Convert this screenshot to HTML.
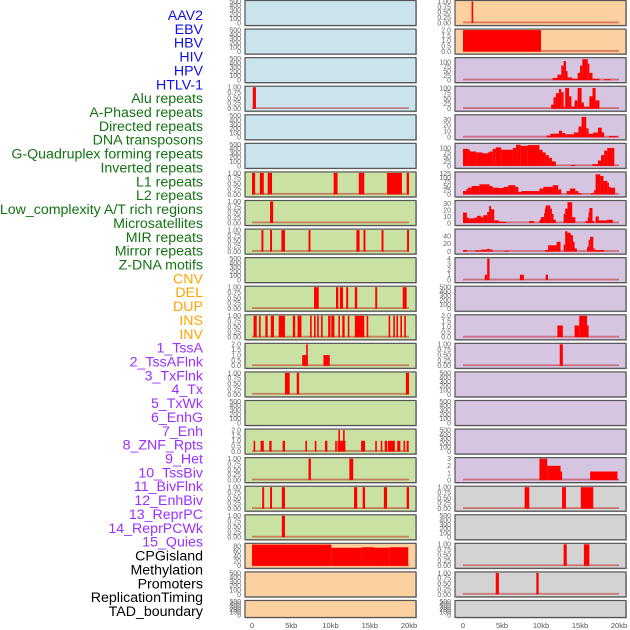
<!DOCTYPE html>
<html><head><meta charset="utf-8">
<style>
html,body{margin:0;padding:0;background:#fff;}
svg{display:block;font-family:"Liberation Sans",sans-serif;}
</style></head>
<body>
<svg id="chart" width="630" height="630" viewBox="0 0 630 630"></svg>
<script>
// ---- labels ----
const trackLabels = ["AAV2","EBV","HBV","HIV","HPV","HTLV-1","Alu repeats","A-Phased repeats","Directed repeats","DNA transposons","G-Quadruplex forming repeats","Inverted repeats","L1 repeats","L2 repeats","Low_complexity A/T rich regions","Microsatellites","MIR repeats","Mirror repeats","Z-DNA motifs","CNV","DEL","DUP","INS","INV","1_TssA","2_TssAFlnk","3_TxFlnk","4_Tx","5_TxWk","6_EnhG","7_Enh","8_ZNF_Rpts","9_Het","10_TssBiv","11_BivFlnk","12_EnhBiv","13_ReprPC","14_ReprPCWk","15_Quies","CPGisland","Methylation","Promoters","ReplicationTiming","TAD_boundary"];
const labelGroups = [6,13,5,15,5];
const groupColors = ["#1010e0","#137313","#ffa500","#9b30ff","#000000"];
const xTickValues = [0,5,10,15,20];
const xTickLabels = ["0","5kb","10kb","15kb","20kb"];

// ---- tick sets ----
const ticksE = [0,100,200,300,400,500];
const ticksT1 = [0,0.25,0.5,0.75,1];
const ticksT2 = [0,0.5,1,1.5,2];
const ticks80 = [0,20,40,60,80];
const ticks100 = [0,25,50,75,100];
const ticks125 = [0,25,50,75,100,125];
const ticks30 = [0,10,20,30];
const ticks40 = [0,20,40];
const ticks4 = [0,1,2,3,4];
const ticks3 = [0,1,2,3];

const leftYmax = [500,500,500,1,500,500,1,1,1,500,1,1,2,1,500,2,1,1,1,88,500,500];
const leftTicks = [ticksE,ticksE,ticksE,ticksT1,ticksE,ticksE,ticksT1,ticksT1,ticksT1,ticksE,ticksT1,ticksT1,ticksT2,ticksT1,ticksE,ticksT2,ticksT1,ticksT1,ticksT1,ticks80,ticksE,ticksE];
const rightYmax = [1,2,118,104,36,120,128,33,55,4,500,2,1,500,500,500,3,1,500,1,1,500];
const rightTicks = [ticksT1,ticksT2,ticks100,ticks100,ticks30,ticks100,ticks125,ticks30,ticks40,ticks4,ticksE,ticksT2,ticksT1,ticksE,ticksE,ticksE,ticks3,ticksT1,ticksE,ticksT1,ticksT1,ticksE];
const leftBg = ["#c9e4ec","#c9e4ec","#c9e4ec","#c9e4ec","#c9e4ec","#c9e4ec","#c9e1a3","#c9e1a3","#c9e1a3","#c9e1a3","#c9e1a3","#c9e1a3","#c9e1a3","#c9e1a3","#c9e1a3","#c9e1a3","#c9e1a3","#c9e1a3","#c9e1a3","#fdd09f","#fdd09f","#fdd09f"];
const rightBg = ["#fdd09f","#fdd09f","#d5c5e1","#d5c5e1","#d5c5e1","#d5c5e1","#d5c5e1","#d5c5e1","#d5c5e1","#d5c5e1","#d5c5e1","#d5c5e1","#d5c5e1","#d5c5e1","#d5c5e1","#d5c5e1","#d5c5e1","#d3d3d3","#d3d3d3","#d3d3d3","#d3d3d3","#d3d3d3"];

// ---- left column data: [startKb, endKb, value] ----
const L03 = [[0.1,0.5,1]];
const L06 = [[0,0.4,1],[1.0,1.5,1],[2.0,2.55,1],[10.4,10.9,1],[13.6,14.3,1],[17.2,19.1,1],[19.7,20,1]];
const L07 = [[2.3,2.7,1]];
const L08 = [[1.2,1.45,1],[2.3,2.55,1],[3.75,4.2,1],[7.2,7.45,1],[13.3,13.7,1],[14.2,14.45,1],[16.5,16.75,1],[19.75,20,1]];
const L10 = [[7.9,8.5,1],[10.7,11.0,1],[11.2,11.6,1],[12.0,12.25,1],[13.1,13.4,1],[15.7,15.95,1],[19.2,19.7,1]];
const L11 = [[0.2,0.6,1],[0.9,1.1,1],[1.7,2.0,1],[2.4,2.8,1],[3.4,4.2,1],[5.2,5.5,1],[5.8,6.3,1],[7.4,7.6,1],[7.9,8.1,1],[8.3,8.5,1],[8.8,8.95,1],[9.7,10.0,1],[10.1,10.5,1],[11.0,11.2,1],[11.5,11.8,1],[12.2,12.4,1],[13.1,14.3,1],[14.6,14.8,1],[17.4,17.55,1],[18.0,18.2,1],[18.4,18.55,1],[18.9,19.1,1],[19.4,19.6,1]];
const L12 = [[6.4,7.1,1],[6.9,7.1,2],[9.1,9.9,1]];
const L13 = [[4.2,4.8,1],[5.7,6.0,1],[19.6,20,1]];
const L15 = [[0.2,0.4,1],[1.1,1.5,1],[2.2,2.5,1],[3.9,4.2,1],[6.8,7.0,1],[8.0,8.2,1],[9.3,9.6,1],[10.6,10.8,1],[10.9,11.9,1],[11.0,11.2,2],[11.6,11.8,2],[13.9,14.4,1],[15.7,15.9,1],[16.4,16.6,1],[16.9,17.2,1],[17.3,18.2,1],[18.5,18.9,1],[19.3,19.5,1],[19.7,19.96,1]];
const L16 = [[7.2,7.5,1],[12.4,12.9,1]];
const L17 = [[1.3,1.55,1],[2.3,2.55,1],[3.8,4.2,1],[13.0,13.4,1],[14.1,14.4,1],[16.8,17.2,1],[19.7,20,1]];
const L18 = [[3.8,4.2,1]];
const L19 = [[0,10.1,87],[10.1,13.9,74],[13.9,15.6,76],[15.6,17.5,74],[17.5,19.9,76]];
const leftData = [[],[],[],L03,[],[],L06,L07,L08,[],L10,L11,L12,L13,[],L15,L16,L17,L18,L19,[],[]];

// ---- right column data ----
const R00 = [[1.1,1.3,1]];
const R01 = [[0,10.0,2]];
const R02 = [[11.5,12.1,12],[12.1,12.6,30],[12.6,12.9,80],[12.9,13.2,105],[13.2,13.4,50],[13.4,14.0,15],[14.0,14.7,8],[14.7,15.0,40],[15.0,15.3,80],[15.3,16.0,115],[16.0,16.2,90],[16.2,16.6,40],[16.6,17.5,8],[18.1,18.9,5]];
const R03 = [[11.3,11.6,20],[11.6,11.9,55],[11.9,12.3,75],[12.3,12.6,95],[12.6,12.9,80],[12.9,13.1,10],[13.1,13.6,100],[13.6,13.9,60],[13.9,14.3,10],[14.3,14.7,40],[14.7,15.2,100],[15.2,15.5,30],[15.5,16.2,10],[16.2,16.6,60],[16.6,17.0,100],[17.0,17.5,40]];
const R04 = [[10.7,11.2,3],[11.2,12.3,6],[12.3,12.7,11],[12.7,13.1,7],[13.1,14.2,5],[14.2,14.8,8],[14.8,15.2,18],[15.2,15.8,34],[15.8,16.1,15],[16.1,16.7,6],[16.7,17.3,8],[17.3,17.8,16],[17.8,18.1,8],[18.7,19.8,2]];
const R05 = [[0,0.7,95],[0.7,0.9,90],[0.9,1.7,80],[1.7,2.5,75],[2.5,3.2,70],[3.2,3.4,75],[3.4,3.8,80],[3.8,4.2,95],[4.2,4.9,103],[4.9,6.4,90],[6.4,6.8,100],[6.8,7.4,118],[7.4,8.3,112],[8.3,9.8,116],[9.8,10.2,90],[10.2,10.6,75],[10.6,11.0,60],[11.0,11.4,45],[11.4,11.9,25],[13.8,14.4,5],[16.6,17.3,10],[17.3,17.7,30],[17.7,18.1,60],[18.1,18.5,85],[18.5,19.4,100]];
const R06 = [[0,0.4,20],[0.4,0.6,30],[0.6,1.1,40],[1.1,2.1,50],[2.1,3.4,60],[3.4,3.8,50],[3.8,4.6,40],[4.6,5.2,38],[5.2,5.8,45],[5.8,6.7,55],[6.7,7.1,45],[7.1,7.5,15],[7.5,9.8,20],[9.8,10.3,35],[10.3,11.5,45],[11.5,12.2,55],[12.2,12.6,30],[13.3,13.7,20],[13.7,14.4,35],[14.4,14.8,20],[14.8,15.2,8],[16.4,16.8,8],[16.8,17.0,25],[17.0,17.6,120],[17.6,18.0,110],[18.0,18.5,80],[18.5,18.7,70],[18.7,18.9,45],[18.9,19.5,40]];
const R07 = [[0,0.5,16],[0.5,0.8,8],[0.8,1.4,7],[1.4,1.8,8],[1.8,2.3,11],[2.3,2.6,9],[2.6,3.1,12],[3.1,3.35,17],[3.35,3.6,26],[3.6,4.0,21],[4.0,4.6,4],[4.6,5.5,2],[8.5,9.1,3],[9.8,10.0,5],[10.0,10.4,9],[10.4,10.5,15],[10.5,10.6,22],[10.6,11.2,27],[11.2,11.4,22],[11.4,11.6,14],[11.6,11.9,5],[12.9,13.1,14],[13.1,13.4,22],[13.4,14.0,32],[14.0,14.4,9],[15.7,16.0,3],[16.0,16.1,9],[16.1,16.2,16],[16.2,16.6,23],[16.6,16.8,3],[17.0,17.4,10],[17.4,18.5,4],[18.5,19.2,5]];
const R08 = [[0,0.5,4],[1.6,2.3,3],[2.3,3.1,5],[3.1,3.4,7],[3.4,3.8,5],[5.3,5.9,2],[10.5,10.9,4],[10.9,12.0,16],[12.0,12.5,25],[12.9,13.1,18],[13.1,13.4,52],[13.4,13.8,48],[13.8,14.1,42],[14.1,14.3,25],[14.3,14.6,8],[15.9,16.1,12],[16.1,16.3,30],[16.3,16.7,38],[16.7,16.9,8],[16.9,18.1,4]];
const R09 = [[2.8,3.1,1],[3.1,3.4,4],[7.3,7.8,1],[10.6,10.9,1]];
const R11 = [[12.1,12.8,1.1],[14.3,14.9,1.1],[14.9,15.9,2],[15.9,16.1,1.1]];
const R12 = [[12.4,12.8,1]];
const R16 = [[9.8,10.8,3],[10.8,12.5,2],[12.5,12.7,1.2],[16.3,19.8,1.2]];
const R17 = [[7.9,8.5,1],[12.7,13.2,1],[15.1,16.7,1]];
const R19 = [[12.9,13.3,1],[15.5,16.2,1]];
const R20 = [[4.2,4.6,1],[9.4,9.7,1]];
const rightData = [R00,R01,R02,R03,R04,R05,R06,R07,R08,R09,[],R11,R12,[],[],[],R16,R17,[],R19,R20,[]];

// ---- drawing ----
const NS = "http://www.w3.org/2000/svg";
const svg = document.getElementById("chart");
function mk(tag, attrs, parent){ const e=document.createElementNS(NS,tag); for(const k in attrs) e.setAttribute(k,attrs[k]); (parent||svg).appendChild(e); return e; }

let li=0;
labelGroups.forEach((n,g)=>{ for(let j=0;j<n;j++){ const t=mk("text",{x:203,y:15+li*13.86+5,"text-anchor":"end","font-size":"14.2",fill:groupColors[g]}); t.textContent=trackLabels[li];
 
 
 li++; } });

const columns = [
 {px0:245,px1:416,x0:252,x20:409,ymax:leftYmax,ticks:leftTicks,bg:leftBg,data:leftData,name:"left"},
 {px0:455,px1:626,x0:463,x20:619,ymax:rightYmax,ticks:rightTicks,bg:rightBg,data:rightData,name:"right"}
];
function fmt(ticks,v){ if(ticks===ticksT1) return v.toFixed(2); if(ticks===ticksT2) return v.toFixed(1); return String(v); }

columns.forEach(col=>{
 const xs = kb => col.x0 + kb*(col.x20-col.x0)/20;
 for(let r=0;r<22;r++){
  const top = r*28.57, h = r===21?17:25;
  const g = mk("g",{});
  
  
  mk("rect",{x:col.px0+1,y:top+1.5,width:col.px1-col.px0,height:h,fill:"#bbb"},g);
  mk("rect",{x:col.px0,y:top+0.5,width:col.px1-col.px0,height:h,fill:col.bg[r],stroke:"#555","stroke-width":1.2},g);
  const ymax = col.ymax[r];
  const ys = v => top+1.5 + (1 - v/ymax)*(h-3.5);
  col.ticks[r].forEach(v=>{
   const t=mk("text",{x:col.px0-4,y:ys(v)+2.4,"text-anchor":"end","font-size":"7",fill:"#666"},g);
   t.textContent=fmt(col.ticks[r],v);
   
   
  });
  const d = col.data[r];
  if(d.length){
   const bl=mk("rect",{x:xs(0),y:ys(0)-1.5,width:xs(20)-xs(0),height:1.8,fill:"rgba(190,30,30,0.5)"},g);
   
   
   d.forEach(s=>{
    const x1=xs(s[0]), x2=xs(s[1]);
    const b=mk("rect",{x:x1,y:ys(s[2]),width:Math.max(1.6,x2-x1),height:ys(0)-ys(s[2]),fill:"#ff0000"},g);
    
    
   });
  }
 }
 xTickValues.forEach((v,i)=>{
  const t=mk("text",{x:xs(v),y:628,"text-anchor":"middle","font-size":"7.5",fill:"#555"});
  t.textContent=xTickLabels[i];
  
  
 });
});
</script>
</body></html>
